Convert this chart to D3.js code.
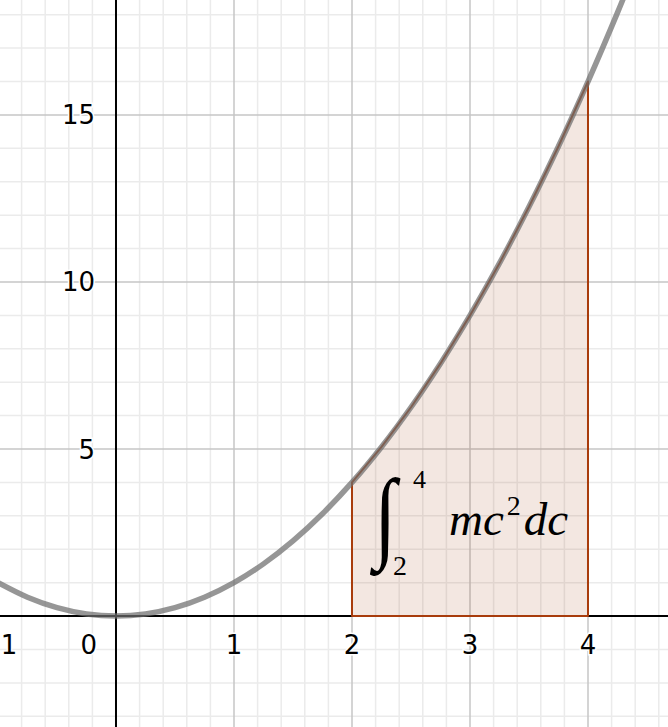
<!DOCTYPE html>
<html><head><meta charset="utf-8">
<script src="https://cdn.jsdelivr.net/npm/d3@7"></script>
<style>html,body{margin:0;padding:0;background:#fff;}svg{display:block;}</style>
</head><body>
<svg id="chart" width="668" height="727"></svg>
<script>
// ---- data ----
const xDomain = [-0.983, 4.678];
const yDomain = [-3.32, 18.44];
const xTickLabels = [-1, 0, 1, 2, 3, 4];
const yTickLabels = [5, 10, 15];
const curveX = [-1.0, -0.75, -0.5, -0.25, 0, 0.25, 0.5, 0.75, 1.0, 1.25, 1.5, 1.75, 2.0, 2.25, 2.5, 2.75, 3.0, 3.25, 3.5, 3.75, 4.0, 4.25, 4.5];
const curveY = [1.0, 0.5625, 0.25, 0.0625, 0, 0.0625, 0.25, 0.5625, 1.0, 1.5625, 2.25, 3.0625, 4.0, 5.0625, 6.25, 7.5625, 9.0, 10.5625, 12.25, 14.0625, 16.0, 18.0625, 20.25];
const lowerBound = 2, upperBound = 4;

const W = 668, H = 727;
const svg = d3.select('#chart');
const x = d3.scaleLinear().domain(xDomain).range([0, W]);
const y = d3.scaleLinear().domain(yDomain).range([H, 0]);

// minor grid
const minorX = d3.range(-1, 4.81, 0.2).filter(v => Math.abs(v - Math.round(v)) > 1e-6);
const minorY = d3.range(-3, 19, 1).filter(v => v % 5 !== 0);
const g = svg.append('g');
g.selectAll('.mx').data(minorX).join('line')
  .attr('x1', d => x(d)).attr('x2', d => x(d)).attr('y1', 0).attr('y2', H)
  .attr('stroke', '#ebebeb').attr('stroke-width', 1.5);
g.selectAll('.my').data(minorY).join('line')
  .attr('x1', 0).attr('x2', W).attr('y1', d => y(d)).attr('y2', d => y(d))
  .attr('stroke', '#ebebeb').attr('stroke-width', 1.5);
// major grid
g.selectAll('.Mx').data(xTickLabels.filter(d => d !== 0)).join('line')
  .attr('x1', d => x(d)).attr('x2', d => x(d)).attr('y1', 0).attr('y2', H)
  .attr('stroke', '#c6c6c6').attr('stroke-width', 1.5);
g.selectAll('.My').data(yTickLabels).join('line')
  .attr('x1', 0).attr('x2', W).attr('y1', d => y(d)).attr('y2', d => y(d))
  .attr('stroke', '#c6c6c6').attr('stroke-width', 1.5);

// axes
svg.append('line').attr('x1', 0).attr('x2', W).attr('y1', y(0)).attr('y2', y(0))
  .attr('stroke', '#000').attr('stroke-width', 2);
svg.append('line').attr('x1', x(0)).attr('x2', x(0)).attr('y1', 0).attr('y2', H)
  .attr('stroke', '#000').attr('stroke-width', 2);

// shaded area
const pts = curveX.map((cx, i) => [cx, curveY[i]]);
const inside = pts.filter(p => p[0] >= lowerBound && p[0] <= upperBound);
const areaPts = [[lowerBound, 0], ...inside, [upperBound, 0]];
const areaLine = d3.line().x(d => x(d[0])).y(d => y(d[1]));
svg.append('path')
  .attr('d', areaLine(areaPts) + 'Z')
  .attr('fill', 'rgba(160,60,10,0.12)')
  .attr('stroke', '#a83c0c').attr('stroke-width', 2).attr('stroke-linejoin', 'round');

// curve
const curveLine = d3.line().x(d => x(d[0])).y(d => y(d[1])).curve(d3.curveCatmullRom);
svg.append('path').attr('d', curveLine(pts))
  .attr('fill', 'none').attr('stroke', '#6e6e6e').attr('stroke-opacity', 0.72)
  .attr('stroke-width', 5.5).attr('stroke-linecap', 'round');

// tick labels
const lab = svg.append('g').attr('font-family', '"DejaVu Sans", sans-serif').attr('font-size', 26)
  .attr('fill', '#000').attr('stroke', '#fff').attr('stroke-width', 3).attr('paint-order', 'stroke');
lab.selectAll('.xl').data(xTickLabels).join('text')
  .attr('x', d => d === 0 ? x(0) - 19 : x(d))
  .attr('y', y(0) + 38)
  .attr('text-anchor', d => d === 0 ? 'end' : 'middle')
  .text(d => d < 0 ? '\u2212' + Math.abs(d) : d);
lab.selectAll('.yl').data(yTickLabels).join('text')
  .attr('x', x(0) - 21)
  .attr('y', d => y(d) + 9.5)
  .attr('text-anchor', 'end')
  .text(d => d);

// integral label
const tg = svg.append('g').attr('font-family', '"Liberation Serif", "Times New Roman", serif').attr('fill', '#000');
tg.append('text').attr('transform', 'translate(374,549) scale(0.8,1)')
  .attr('font-size', 101).attr('font-style', 'italic').text('\u222B');
tg.append('text').attr('x', 413).attr('y', 488).attr('font-size', 26).text(upperBound);
tg.append('text').attr('x', 393).attr('y', 575).attr('font-size', 28).text(lowerBound);
const t1 = tg.append('text').attr('x', 449).attr('y', 535).attr('font-size', 47).attr('font-style', 'italic').text('mc');
const w1 = t1.node().getComputedTextLength();
tg.append('text').attr('x', 449 + w1 + 3).attr('y', 515).attr('font-size', 28).text('2');
tg.append('text').attr('x', 449 + w1 + 20).attr('y', 535).attr('font-size', 47).attr('font-style', 'italic').text('dc');
</script>
</body></html>
